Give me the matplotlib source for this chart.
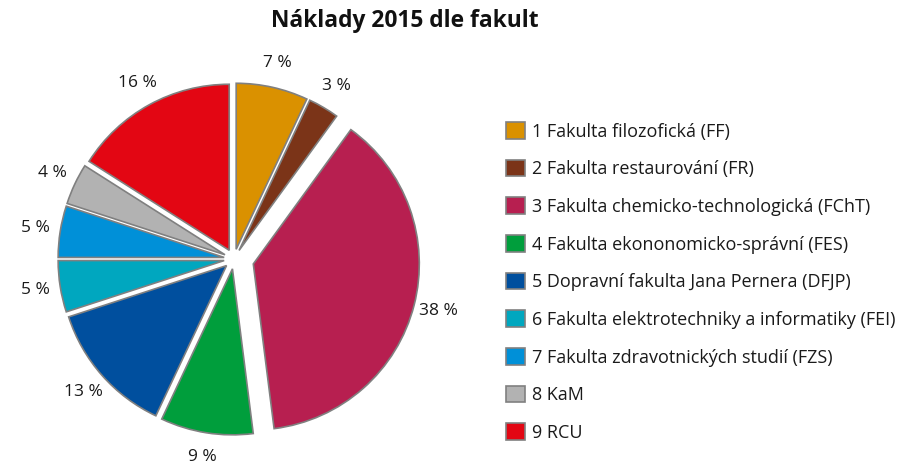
import matplotlib
matplotlib.use("Agg")
import matplotlib.pyplot as plt
import math

plt.rcParams['font.family'] = ['Open Sans', 'DejaVu Sans']

labels = ["1 Fakulta filozofická (FF)",
          "2 Fakulta restaurování (FR)",
          "3 Fakulta chemicko-technologická (FChT)",
          "4 Fakulta ekononomicko-správní (FES)",
          "5 Dopravní fakulta Jana Pernera (DFJP)",
          "6 Fakulta elektrotechniky a informatiky (FEI)",
          "7 Fakulta zdravotnických studií (FZS)",
          "8 KaM",
          "9 RCU"]
values = [7, 3, 38, 9, 13, 5, 5, 4, 16]
colors = ["#DA9100", "#7B3418", "#B71F50", "#009E3C", "#004F9E",
          "#00A7BF", "#0090D8", "#B2B2B2", "#E30613"]
explode = [0.06, 0.06, 0.12, 0.06, 0.06, 0.06, 0.06, 0.06, 0.06]

W, H = 923, 465
fig = plt.figure(figsize=(W / 100, H / 100), dpi=100)

# pie axes: center and radius in pixels
cx, cy, r = 234, 259, 166
span = 1.45
half = span * r
ax = fig.add_axes([(cx - half) / W, 1 - (cy + half) / H, 2 * half / W, 2 * half / H])

wedges, texts = ax.pie(values, colors=colors, explode=explode, startangle=90,
                       counterclock=False, radius=1.0,
                       labels=[f"{v} %" for v in values], labeldistance=None,
                       wedgeprops=dict(edgecolor="#808080", linewidth=1.2))
ax.set_xlim(-span, span)
ax.set_ylim(-span, span)
ax.set_aspect('equal')
ax.axis('off')

theta = 90.0
total = sum(values)
for v, e in zip(values, explode):
    sweep = 360.0 * v / total
    mid = math.radians(theta - sweep / 2)
    d = e + 1.15
    ax.text(d * math.cos(mid), d * math.sin(mid), f"{v} %", ha='center', va='center',
            fontsize=12.5, color='#1a1a1a', clip_on=False)
    theta -= sweep

fig.text(405 / W, 1 - 21 / H, "Náklady 2015 dle fakult", ha='center', va='center',
         fontsize=16.4, fontweight='bold', color='#111111')

leg = fig.legend(wedges, labels, loc='upper left', bbox_to_anchor=(506 / W, 1 - 122 / H),
                 frameon=False, fontsize=13, handlelength=1.05, handleheight=1.05,
                 handletextpad=0.4, labelspacing=1.06, borderaxespad=0, borderpad=0)
for t in leg.get_texts():
    t.set_color('#1a1a1a')

fig.savefig("out.png", dpi=100)
